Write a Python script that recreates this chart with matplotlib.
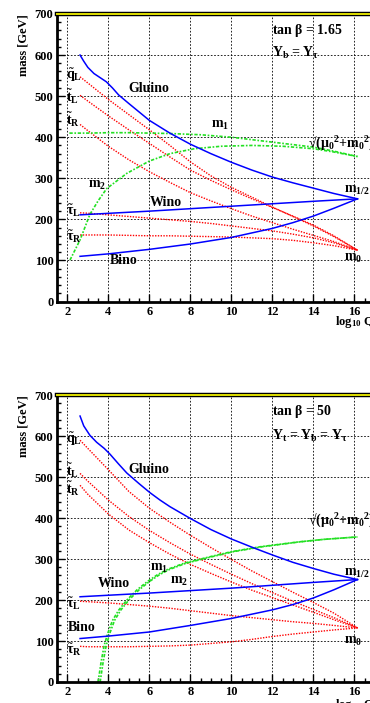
import numpy as np
import matplotlib
matplotlib.use("Agg")
import matplotlib.pyplot as plt
from matplotlib.ticker import MultipleLocator

# ---- data (x = log10 Q, y = mass in GeV) ----
# upper panel: tan beta = 1.65
top_gluino_x = [2.62, 2.8, 3.0, 3.3, 3.6, 3.9, 4.2, 4.5, 5.0, 6.0, 7.0, 8.0, 9.0, 10.0, 11.0, 12.0, 13.0, 14.0, 15.0, 16.15]
top_gluino_y = [600, 585, 570, 555, 545, 535, 520, 503, 482, 441, 410, 383, 360, 339, 320, 303, 289, 276, 263, 250]
top_wino_x = [2.62, 6.0, 10.0, 14.0, 16.15]
top_wino_y = [211, 220, 232, 244, 250]
top_bino_x = [2.62, 4.0, 6.0, 8.0, 10.0, 12.0, 13.0, 14.0, 15.0, 16.15]
top_bino_y = [110, 116, 127, 140, 156, 178, 192, 208, 227, 250]
top_sfx = [2.62, 3.0, 4.0, 5.0, 6.0, 7.0, 8.0, 9.0, 10.0, 11.0, 12.0, 13.0, 14.0, 15.0, 16.15]
top_qL = [547, 532, 492, 455, 418, 380, 340, 306, 278, 254, 230, 207, 184, 158, 125]
top_tL = [502, 488, 452, 418, 385, 352, 320, 295, 272, 250, 229, 208, 186, 160, 125]
top_tR = [431, 416, 378, 345, 316, 290, 265, 245, 226, 208, 192, 176, 161, 146, 125]
top_tauL = [216, 215, 211, 207, 203, 199, 195, 190, 184, 178, 172, 164, 155, 143, 125]
top_tauR = [162, 162, 162, 161, 160, 160, 159, 158, 157, 155, 153, 149, 143, 136, 125]
top_m1_x = [2.1, 3.0, 4.0, 5.0, 6.0, 7.0, 8.5, 10.0, 11.0, 12.0, 13.0, 14.0, 15.0, 16.15]
top_m1_y = [410, 410, 411, 411, 410, 409, 406, 400, 394, 388, 382, 376, 366, 353]
top_m2_x = [2.13, 2.62, 3.1, 3.5, 3.92, 4.9, 6.0, 7.0, 8.2, 9.5, 11.0, 12.5, 14.0, 15.0, 16.15]
top_m2_y = [101, 150, 212, 245, 275, 312, 342, 360, 372, 378, 380, 378, 372, 364, 353]

# lower panel: tan beta = 50
bot_gluino_x = [2.62, 2.8, 3.1, 3.43, 3.8, 4.08, 4.5, 4.9, 5.5, 6.03, 6.52, 7.0, 8.0, 9.0, 10.0, 11.0, 12.0, 13.0, 14.0, 15.0, 16.15]
bot_gluino_y = [649, 625, 602, 585, 570, 556, 532, 510, 484, 462, 444, 428, 399, 372, 349, 329, 310, 292, 277, 263, 250]
bot_wino_x = [2.62, 6.0, 10.0, 14.0, 16.15]
bot_wino_y = [208, 217, 229, 243, 250]
bot_bino_x = [2.62, 4.0, 6.0, 8.0, 10.0, 12.0, 13.0, 14.0, 15.0, 16.15]
bot_bino_y = [106, 112, 122, 138, 155, 176, 189, 205, 225, 250]
bot_sfx = [2.62, 3.0, 4.0, 5.0, 6.0, 7.0, 8.0, 9.0, 10.0, 11.0, 12.0, 13.0, 14.0, 15.0, 16.15]
bot_qL = [590, 570, 518, 465, 424, 390, 358, 328, 299, 271, 245, 219, 194, 168, 132]
bot_tL = [509, 490, 444, 404, 370, 340, 312, 287, 263, 240, 218, 197, 177, 157, 132]
bot_tR = [480, 458, 410, 371, 340, 312, 287, 265, 244, 224, 206, 188, 170, 152, 132]
bot_tauL = [197, 196, 193, 189, 185, 180, 174, 168, 162, 157, 152, 147, 143, 138, 132]
bot_tauR = [87, 86, 86, 86, 87, 88, 90, 94, 98, 104, 111, 117, 122, 127, 132]
bot_m2_x = [3.6, 3.75, 3.9, 4.08, 4.3, 4.6, 5.0, 5.5, 6.0, 6.5, 7.0, 7.8, 9.0, 10.1, 11.5, 13.35, 14.5, 16.15]
bot_m2_y = [0, 50, 90, 120, 150, 175, 200, 225, 245, 262, 275, 290, 305, 318, 330, 342, 348, 354]
bot_m1_x = [3.5, 3.65, 3.8, 3.98, 4.2, 4.5, 4.9, 5.4, 5.9, 6.4, 6.9, 7.7, 8.9, 10.0, 11.4, 13.3, 14.5, 16.15]
bot_m1_y = [0, 50, 90, 120, 150, 175, 200, 225, 245, 262, 275, 290, 305, 318, 330, 342, 348, 354]

plt.rcParams['font.family'] = ['Liberation Serif', 'DejaVu Serif']
plt.rcParams['font.weight'] = 'bold'
plt.rcParams['mathtext.fontset'] = 'custom'
plt.rcParams['mathtext.rm'] = 'Liberation Serif:bold'
plt.rcParams['mathtext.it'] = 'Liberation Serif:bold'
plt.rcParams['mathtext.bf'] = 'Liberation Serif:bold'

RED = '#ff0000'
BLUE = '#0000ff'
GREEN = '#22e022'
red_ls = (0, (1, 1))
green_ls = (0, (2, 1, 1, 1))


def style_axes(ax):
    ax.set_xlim(1.52, 17.4)
    ax.set_ylim(0, 700)
    ax.xaxis.set_major_locator(MultipleLocator(2))
    ax.xaxis.set_minor_locator(MultipleLocator(0.5))
    ax.yaxis.set_major_locator(MultipleLocator(100))
    ax.yaxis.set_minor_locator(MultipleLocator(20))
    ax.tick_params(which='both', direction='in', top=False, right=False,
                   labelsize=9, width=1)
    ax.tick_params(which='major', length=6, pad=3)
    ax.tick_params(which='minor', length=3)
    for lab in ax.get_xticklabels() + ax.get_yticklabels():
        lab.set_fontweight('bold')
    ax.grid(True, which='major', color='black', ls=(0, (2, 2)), lw=0.6)
    for s in ['left', 'bottom']:
        ax.spines[s].set_linewidth(2)
    ax.spines['right'].set_visible(False)
    ax.spines['top'].set_color('black')
    ax.spines['top'].set_linewidth(3.2)
    ax.axhline(700, color='#e0e000', lw=1.4, zorder=5, clip_on=False)
    ax.set_ylabel('mass [GeV]', fontsize=9, fontweight='bold', loc='top', labelpad=4)


def draw_panel(ax, d, lab):
    for y in d['sf']:
        ax.plot(d['sfx'], y, color=RED, ls=red_ls, lw=1.0)
    ax.plot(d['m1x'], d['m1y'], color=GREEN, ls=green_ls, lw=1.2)
    ax.plot(d['m2x'], d['m2y'], color=GREEN, ls=green_ls, lw=1.2)
    ax.plot(d['gx'], d['gy'], color=BLUE, lw=1.1)
    ax.plot(d['wx'], d['wy'], color=BLUE, lw=1.1)
    ax.plot(d['bx'], d['by'], color=BLUE, lw=1.1)
    for txt, x, y in lab:
        ax.text(x, y, txt, fontsize=10, fontweight='bold', ha='left', va='center')


SQRT_LABEL = r'√($\mu_0{}^2$+m$_0{}^2$)'

fig = plt.figure(figsize=(3.70, 7.03), dpi=100)
ax1 = fig.add_axes([0.1554, 0.5711, 0.880, 0.409])
ax2 = fig.add_axes([0.1554, 0.0299, 0.880, 0.408])

draw_panel(ax1, dict(sfx=top_sfx, sf=[top_qL, top_tL, top_tR, top_tauL, top_tauR],
                     m1x=top_m1_x, m1y=top_m1_y, m2x=top_m2_x, m2y=top_m2_y,
                     gx=top_gluino_x, gy=top_gluino_y, wx=top_wino_x, wy=top_wino_y,
                     bx=top_bino_x, by=top_bino_y),
           [(r'tan $\beta$ = 1.65', 12.0, 660),
            (r'Y$_\mathrm{b}$ = Y$_\tau$', 12.0, 606),
            ('Gluino', 5.0, 518),
            (r'm$_1$', 9.0, 428),
            (SQRT_LABEL, 13.74, 384),
            (r'm$_2$', 3.0, 282),
            ('Wino', 6.03, 240),
            (r'm$_{1/2}$', 15.5, 270),
            (r'm$_0$', 15.5, 104),
            ('Bino', 4.08, 99),
            (r'$\tilde{\mathrm{q}}_\mathrm{L}$', 1.93, 550),
            (r'$\tilde{\mathrm{t}}_\mathrm{L}$', 1.93, 498),
            (r'$\tilde{\mathrm{t}}_\mathrm{R}$', 1.93, 442),
            (r'$\tilde{\tau}_\mathrm{L}$', 1.93, 221),
            (r'$\tilde{\tau}_\mathrm{R}$', 1.93, 157)])

draw_panel(ax2, dict(sfx=bot_sfx, sf=[bot_qL, bot_tL, bot_tR, bot_tauL, bot_tauR],
                     m1x=bot_m1_x, m1y=bot_m1_y, m2x=bot_m2_x, m2y=bot_m2_y,
                     gx=bot_gluino_x, gy=bot_gluino_y, wx=bot_wino_x, wy=bot_wino_y,
                     bx=bot_bino_x, by=bot_bino_y),
           [(r'tan $\beta$ = 50', 12.0, 661),
            (r'Y$_\mathrm{t}$ = Y$_\mathrm{b}$ = Y$_\tau$', 12.0, 600),
            ('Gluino', 5.0, 519),
            (SQRT_LABEL, 13.74, 392),
            (r'm$_1$', 6.04, 276),
            (r'm$_2$', 7.0, 245),
            ('Wino', 3.5, 241),
            (r'm$_{1/2}$', 15.5, 266),
            (r'm$_0$', 15.5, 100),
            ('Bino', 2.03, 132),
            (r'$\tilde{\mathrm{q}}_\mathrm{L}$', 1.93, 593),
            (r'$\tilde{\mathrm{t}}_\mathrm{L}$', 1.93, 515),
            (r'$\tilde{\mathrm{t}}_\mathrm{R}$', 1.93, 471),
            (r'$\tilde{\tau}_\mathrm{L}$', 1.93, 190),
            (r'$\tilde{\tau}_\mathrm{R}$', 1.93, 78)])

for ax in (ax1, ax2):
    style_axes(ax)

fig.text(335 / 370, 1 - 322 / 703, r'log$_{10}$ Q', fontsize=9, fontweight='bold', va='center', ha='left')
fig.text(335 / 370, 1 - 705 / 703, r'log$_{10}$ Q', fontsize=9, fontweight='bold', va='center', ha='left')

fig.savefig('out.png', dpi=100)
